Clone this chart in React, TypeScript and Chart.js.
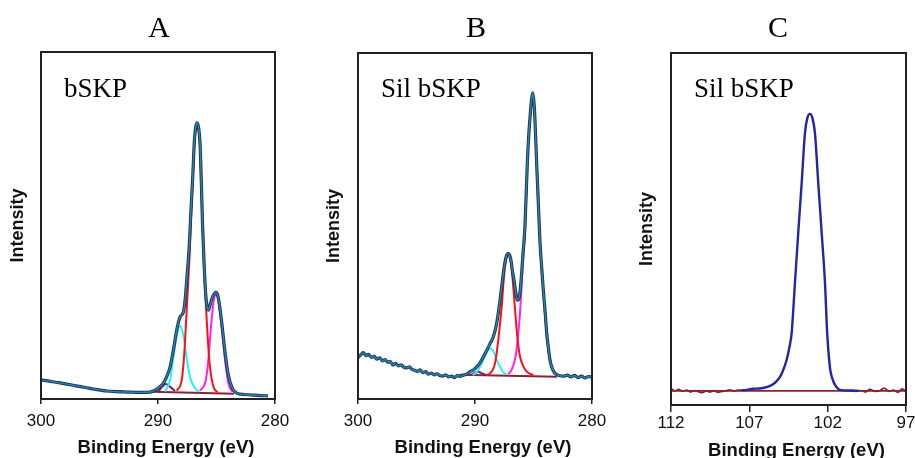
import React, { useEffect, useRef } from "react";
import { Chart, registerables } from "chart.js";
Chart.register(...registerables);

type Pt = [number, number];

// ---------- tick labels ----------
const A_TICKS = [300, 290, 280];
const B_TICKS = [300, 290, 280];
const C_TICKS = [112, 107, 102, 97];

// ---------- panel A : bSKP, C 1s (binding energy eV, intensity a.u.) ----------
const A_ENVELOPE: Pt[] = [
  [300.0, 5.5], [299.2, 5.1], [298.5, 4.7], [297.8, 4.3], [297.0, 3.8], [296.2, 3.3], [295.4, 2.8],
  [294.4, 2.3], [293.5, 2.1], [292.6, 2.0], [291.6, 1.9], [290.7, 2.0], [290.2, 2.6], [289.8, 3.6],
  [289.5, 4.8], [289.26, 6.4], [288.97, 9.2], [288.69, 14.1], [288.4, 19.9], [288.12, 23.6],
  [287.84, 25.0], [287.7, 28.0], [287.55, 34.0], [287.41, 40.1], [287.3, 46.0], [287.18, 54.5],
  [287.03, 64.1], [286.9, 73.8], [286.77, 78.5], [286.64, 79.6], [286.52, 78.0], [286.41, 73.8],
  [286.3, 63.0], [286.2, 51.0], [286.07, 40.0], [285.94, 31.0], [285.82, 27.0], [285.7, 25.6],
  [285.55, 27.0], [285.38, 29.1], [285.2, 30.3], [285.04, 30.7], [284.9, 30.0], [284.81, 28.5],
  [284.56, 22.2], [284.27, 13.5], [283.99, 6.9], [283.62, 2.9], [283.27, 1.7], [282.6, 1.3],
  [281.9, 1.1], [281.2, 1.0], [280.6, 0.9],
];
const A_RED: Pt[] = [
  [288.4, 2.4], [287.97, 5.5], [287.75, 13.3], [287.55, 25.6], [287.32, 40.1], [287.18, 52.0],
  [287.03, 63.0], [286.9, 73.0], [286.77, 78.0], [286.64, 79.2], [286.52, 77.5], [286.41, 72.5],
  [286.3, 62.0], [286.2, 50.0], [286.07, 38.0], [285.94, 29.0], [285.84, 23.0], [285.7, 15.0],
  [285.55, 9.0], [285.4, 5.5], [285.2, 3.0], [284.9, 2.0],
];
const A_CYAN: Pt[] = [
  [289.4, 2.1], [288.97, 5.5], [288.69, 11.8], [288.4, 18.2], [288.12, 21.1], [287.84, 18.4],
  [287.55, 11.8], [287.26, 6.3], [286.84, 3.1], [286.47, 2.1],
];
const A_MAGENTA: Pt[] = [
  [286.41, 2.4], [285.98, 4.5], [285.84, 7.0], [285.7, 11.2], [285.47, 20.8], [285.27, 27.6],
  [285.04, 30.2], [284.81, 27.6], [284.56, 20.8], [284.27, 11.2], [283.99, 4.5], [283.62, 2.0],
];
const A_PURPLE: Pt[] = [[289.97, 2.1], [289.6, 3.7], [289.34, 4.3], [288.97, 3.5], [288.55, 2.3]];
const A_BASE: Pt[] = [[290.5, 2.1], [283.5, 1.5]];

// ---------- panel B : Sil bSKP, C 1s ----------
const B_ENVELOPE: Pt[] = [
  [300.0, 12.0], [299.8, 12.6], [299.55, 13.4], [299.3, 12.5], [299.1, 12.9], [298.85, 12.0],
  [298.6, 12.3], [298.4, 11.5], [298.15, 11.9], [297.9, 11.0], [297.7, 11.4], [297.45, 10.6],
  [297.25, 10.9], [297.0, 9.8], [296.8, 10.3], [296.55, 9.6], [296.3, 9.9], [296.1, 9.2],
  [295.85, 9.0], [295.6, 9.3], [295.4, 8.6], [295.15, 8.3], [294.9, 8.0], [294.7, 8.4],
  [294.45, 7.6], [294.2, 7.9], [294.0, 7.2], [293.75, 7.5], [293.5, 7.0], [293.25, 7.3],
  [293.0, 6.8], [292.75, 6.6], [292.5, 7.0], [292.25, 6.4], [292.0, 6.6], [291.75, 6.2],
  [291.5, 6.8], [291.25, 6.5], [291.0, 6.9], [290.75, 7.1], [290.43, 7.9], [290.15, 8.4],
  [289.85, 9.3], [289.55, 10.6], [289.29, 12.2], [289.0, 14.0], [288.72, 16.0], [288.44, 17.9],
  [288.15, 21.8], [287.86, 28.6], [287.58, 36.3], [287.44, 39.5], [287.29, 41.6], [287.15, 42.1],
  [287.03, 41.5], [286.92, 40.0], [286.8, 37.0], [286.67, 34.4], [286.5, 30.5], [286.38, 28.6],
  [286.28, 28.8], [286.15, 31.0], [286.0, 37.0], [285.92, 41.0], [285.73, 50.0], [285.53, 68.0],
  [285.4, 76.5], [285.27, 82.6], [285.17, 86.5], [285.07, 88.5], [284.98, 86.5], [284.9, 82.6],
  [284.73, 68.1], [284.58, 56.0], [284.44, 45.1], [284.3, 38.0], [284.16, 31.5], [284.0, 25.0],
  [283.87, 19.0], [283.72, 14.5], [283.59, 11.3], [283.4, 8.8], [283.16, 7.4], [282.8, 6.8],
  [282.45, 6.6], [282.1, 6.9], [281.8, 6.4], [281.5, 6.8], [281.2, 6.2], [280.9, 6.6],
  [280.6, 6.1], [280.3, 6.5], [280.0, 6.3],
];
const B_RED: Pt[] = [
  [289.0, 6.9], [288.72, 7.4], [288.29, 10.3], [288.01, 17.1], [287.72, 26.7], [287.58, 33.0],
  [287.44, 38.2], [287.29, 41.2], [287.15, 42.1], [287.0, 40.8], [286.86, 37.5], [286.72, 32.0],
  [286.58, 26.0], [286.44, 20.0], [286.3, 15.5], [286.15, 12.2], [285.92, 9.8], [285.58, 7.9],
  [285.02, 6.9],
];
const B_CYAN: Pt[] = [
  [290.2, 6.9], [289.85, 7.8], [289.55, 9.5], [289.29, 11.3], [289.0, 13.5], [288.72, 14.7],
  [288.44, 13.9], [288.29, 12.7], [288.01, 10.2], [287.86, 9.3], [287.58, 7.7], [287.29, 7.1],
];
const B_MAGENTA: Pt[] = [
  [287.15, 7.2], [286.86, 8.5], [286.58, 11.5], [286.44, 14.5], [286.3, 19.0], [286.15, 25.0],
  [286.01, 33.0], [285.92, 39.0], [285.73, 48.0], [285.53, 67.5], [285.4, 76.0], [285.27, 82.0],
  [285.07, 88.0], [284.9, 82.0], [284.73, 67.5], [284.58, 55.0], [284.44, 44.5], [284.16, 31.0],
  [283.87, 18.6], [283.59, 11.0], [283.16, 7.6], [282.7, 6.7],
];
const B_PURPLE: Pt[] = [[290.4, 6.9], [290.0, 7.6], [289.7, 7.9], [289.4, 7.4], [289.0, 6.9]];
const B_BASE: Pt[] = [[291.3, 7.0], [283.0, 6.4]];

// ---------- panel C : Sil bSKP, Si 2p ----------
const C_PEAK: Pt[] = [
  [107.5, 4.2], [107.17, 4.3], [106.8, 4.6], [106.32, 4.7], [105.9, 5.1], [105.57, 5.7],
  [105.3, 6.6], [105.04, 8.0], [104.85, 9.8], [104.62, 12.8], [104.45, 16.2], [104.3, 20.4],
  [104.09, 34.6], [103.88, 48.8], [103.66, 63.0], [103.45, 77.2], [103.3, 81.5], [103.13, 82.7],
  [102.97, 81.5], [102.81, 77.2], [102.6, 63.0], [102.38, 48.8], [102.17, 34.6], [102.03, 20.4],
  [101.85, 10.5], [101.7, 7.5], [101.53, 5.7], [101.21, 4.3], [100.58, 4.1], [100.0, 4.0],
];
const C_NOISE_LEFT: Pt[] = [
  [112.0, 4.7], [111.75, 4.0], [111.5, 4.4], [111.25, 3.9], [111.0, 4.2], [110.75, 3.7],
  [110.5, 4.1], [110.25, 3.8], [110.0, 3.5], [109.75, 4.0], [109.5, 3.7], [109.25, 4.1],
  [109.0, 3.6], [108.75, 3.9], [108.5, 4.0], [108.25, 4.3], [108.0, 4.0], [107.75, 4.2], [107.5, 4.2],
];
const C_NOISE_RIGHT: Pt[] = [
  [100.5, 4.2], [100.2, 3.9], [99.9, 4.1], [99.6, 3.7], [99.3, 4.4], [99.0, 3.9], [98.7, 4.0],
  [98.4, 4.8], [98.1, 3.9], [97.8, 4.2], [97.5, 3.6], [97.25, 4.6], [97.0, 3.8],
];
const C_BASE: Pt[] = [[112.0, 4.0], [97.0, 4.0]];

// ---------- text ----------
const X_TITLE = "Binding Energy (eV)";
const Y_TITLE = "Intensity";

const SANS = "'Liberation Sans', Arial, sans-serif";
const SERIF = "'Liberation Serif', 'Times New Roman', serif";

const panelText = {
  id: "panelText",
  afterDraw(chart: any, _args: any, o: any) {
    const { ctx, chartArea: ca } = chart;
    ctx.save();
    ctx.strokeStyle = "#222";
    ctx.lineWidth = 2;
    ctx.strokeRect(ca.left, ca.top, ca.right - ca.left, ca.bottom - ca.top);
    const cx = (ca.left + ca.right) / 2;
    ctx.fillStyle = "#000";
    ctx.textBaseline = "alphabetic";
    ctx.font = `30px ${SERIF}`;
    ctx.textAlign = "center";
    ctx.fillText(o.letter, cx + o.letterDx, o.letterY);
    ctx.font = `27px ${SERIF}`;
    ctx.textAlign = "left";
    ctx.fillText(o.label, ca.left + 23, o.labelY);
    ctx.font = `bold 18.5px ${SANS}`;
    ctx.textAlign = "center";
    ctx.fillStyle = "#111";
    ctx.fillText(o.xTitle, cx + 8, o.xTitleY);
    ctx.restore();
  },
};

type Series = { pts: Pt[]; color: string; width: number; order: number };

type PanelCfg = {
  left: number;
  width: number;
  padTop: number;
  padRight: number;
  yWidth: number;
  xHeight: number;
  xMin: number;
  xMax: number;
  ticks: number[];
  tickLen: number;
  tickPad: number;
  letter: string;
  letterDx: number;
  label: string;
  xTitleY: number;
  series: Series[];
};

const RAW = "#1d2f6e";
const FIT = "#2a8a8e";
const RED = "#ff1010";
const CYAN = "#20f4f4";
const MAGENTA = "#ff20ff";
const PURPLE = "#7a1a7a";
const BASE = "#8a2230";
const BLUE = "#2424a8";

const PANELS: PanelCfg[] = [
  {
    left: 0, width: 300, padTop: 52, padRight: 25, yWidth: 41, xHeight: 59,
    xMin: 280, xMax: 300, ticks: A_TICKS, tickLen: 5, tickPad: 7,
    letter: "A", letterDx: 1, label: "bSKP", xTitleY: 452.5,
    series: [
      { pts: A_BASE, color: BASE, width: 2, order: 7 },
      { pts: A_PURPLE, color: PURPLE, width: 2, order: 6 },
      { pts: A_CYAN, color: CYAN, width: 2, order: 5 },
      { pts: A_MAGENTA, color: MAGENTA, width: 2, order: 4 },
      { pts: A_RED, color: RED, width: 2, order: 3 },
      { pts: A_ENVELOPE, color: RAW, width: 3.2, order: 2 },
      { pts: A_ENVELOPE, color: FIT, width: 1.4, order: 1 },
    ],
  },
  {
    left: 316, width: 301, padTop: 53, padRight: 25, yWidth: 42, xHeight: 59,
    xMin: 280, xMax: 300, ticks: B_TICKS, tickLen: 5, tickPad: 7,
    letter: "B", letterDx: 1, label: "Sil bSKP", xTitleY: 452.5,
    series: [
      { pts: B_BASE, color: BASE, width: 2, order: 7 },
      { pts: B_PURPLE, color: PURPLE, width: 2, order: 6 },
      { pts: B_CYAN, color: CYAN, width: 2, order: 5 },
      { pts: B_MAGENTA, color: MAGENTA, width: 2, order: 4 },
      { pts: B_RED, color: RED, width: 2, order: 3 },
      { pts: B_ENVELOPE, color: RAW, width: 3.2, order: 2 },
      { pts: B_ENVELOPE, color: FIT, width: 1.4, order: 1 },
    ],
  },
  {
    left: 629, width: 302, padTop: 53, padRight: 25, yWidth: 42, xHeight: 53,
    xMin: 97, xMax: 112, ticks: C_TICKS, tickLen: 7, tickPad: 1,
    letter: "C", letterDx: -10.5, label: "Sil bSKP", xTitleY: 455.5,
    series: [
      { pts: C_BASE, color: BASE, width: 1.8, order: 4 },
      { pts: C_NOISE_LEFT, color: BASE, width: 1.8, order: 3 },
      { pts: C_NOISE_RIGHT, color: BASE, width: 1.8, order: 2 },
      { pts: C_PEAK, color: BLUE, width: 2.4, order: 1 },
    ],
  },
];

function Panel({ cfg }: { cfg: PanelCfg }) {
  const ref = useRef<HTMLCanvasElement>(null);
  useEffect(() => {
    const chart = new Chart(ref.current as HTMLCanvasElement, {
      type: "line",
      data: {
        datasets: cfg.series.map((s) => ({
          data: s.pts.map(([x, y]) => ({ x, y })),
          borderColor: s.color,
          borderWidth: s.width,
          pointRadius: 0,
          fill: false,
          cubicInterpolationMode: "monotone",
          order: s.order,
        })),
      } as any,
      options: {
        animation: false,
        responsive: false,
        events: [],
        layout: { padding: { top: cfg.padTop, left: 0, right: cfg.padRight, bottom: 0 } },
        plugins: {
          legend: { display: false },
          tooltip: { enabled: false },
          title: { display: false },
          panelText: {
            letter: cfg.letter,
            letterDx: cfg.letterDx,
            letterY: 37,
            label: cfg.label,
            labelY: 97,
            xTitle: X_TITLE,
            xTitleY: cfg.xTitleY,
          },
        } as any,
        scales: {
          x: {
            type: "linear",
            reverse: true,
            min: cfg.xMin,
            max: cfg.xMax,
            afterBuildTicks: (s: any) => {
              s.ticks = cfg.ticks.map((v) => ({ value: v }));
            },
            afterFit: (s: any) => {
              s.height = cfg.xHeight;
            },
            ticks: {
              font: { family: SANS, size: 17 },
              color: "#111",
              padding: cfg.tickPad,
              maxRotation: 0,
              autoSkip: false,
            },
            grid: {
              display: true,
              drawOnChartArea: false,
              drawTicks: true,
              tickLength: cfg.tickLen,
              color: "#222",
              lineWidth: 1.5,
            },
            border: { display: false },
          },
          y: {
            type: "linear",
            min: 0,
            max: 100,
            afterFit: (s: any) => {
              s.width = cfg.yWidth;
            },
            ticks: { display: false },
            grid: { display: false },
            border: { display: false },
            title: {
              display: true,
              text: Y_TITLE,
              color: "#111",
              font: { family: SANS, size: 18, weight: "bold" },
              padding: { top: 7.2, bottom: 0 },
            },
          },
        },
      } as any,
      plugins: [panelText as any],
    });
    return () => chart.destroy();
  }, [cfg]);
  return (
    <canvas
      ref={ref}
      width={cfg.width}
      height={458}
      style={{ position: "absolute", left: cfg.left, top: 0, width: cfg.width, height: 458 }}
    />
  );
}

export default function App() {
  return (
    <div
      style={{
        position: "fixed",
        left: 0,
        top: 0,
        width: 915,
        height: 458,
        overflow: "hidden",
        background: "#fff",
      }}
    >
      {PANELS.map((p) => (
        <Panel key={p.letter} cfg={p} />
      ))}
    </div>
  );
}
